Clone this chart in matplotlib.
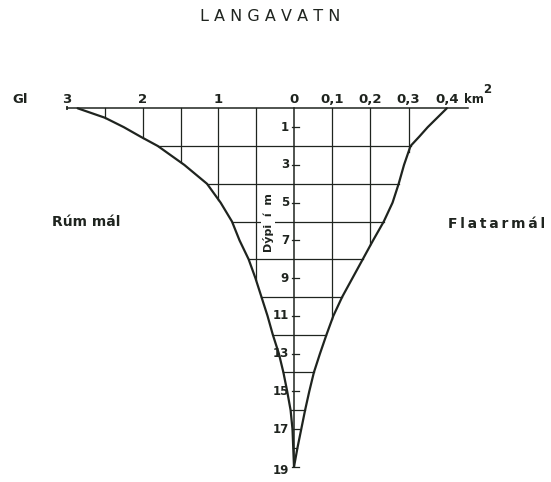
import numpy as np
import matplotlib
matplotlib.use("Agg")
import matplotlib.pyplot as plt

# depth (m)
depth = [0, 0.5, 1, 1.5, 2, 3, 4, 5, 6, 7, 8, 9, 10, 11, 12, 13, 14, 15, 16, 17, 18, 19]
# cumulative volume (Gl) above each depth - left curve
volume = [2.86, 2.5, 2.25, 2.03, 1.8, 1.45, 1.15, 0.97, 0.82, 0.72, 0.6, 0.51, 0.43,
          0.35, 0.28, 0.2, 0.14, 0.09, 0.045, 0.02, 0.01, 0.0]
# area (km2) at each depth - right curve
area = [0.40, 0.375, 0.35, 0.328, 0.305, 0.288, 0.274, 0.258, 0.235, 0.207, 0.18, 0.153,
        0.126, 0.103, 0.085, 0.068, 0.052, 0.04, 0.029, 0.019, 0.009, 0.0]

vol_ticks = [3, 2, 1, 0]
area_ticks = [0.1, 0.2, 0.3, 0.4]
area_labels = ["0,1", "0,2", "0,3", "0,4"]
vol_grid = [0.5, 1, 1.5, 2, 2.5]
area_grid = [0.1, 0.2, 0.3]
depth_grid = [2, 4, 6, 8, 10, 12, 14, 16, 18]
depth_ticks = [1, 3, 5, 7, 9, 11, 13, 15, 17, 19]

d = np.array(depth, dtype=float)
v = np.array(volume)
a = np.array(area)
k = 0.198  # 1 Gl drawn as 0.198 km2 on the shared x axis
xl = -v * k

ink = "#1f241f"
fig = plt.figure(figsize=(5.51, 4.82), dpi=100)
ax = fig.add_axes([0, 0, 1, 1])
pxx = 382.0
pxy = 18.87
ax.set_xlim(-294 / pxx, 257 / pxx)
ax.set_ylim((482 - 108.3) / pxy, -108.3 / pxy)
ax.axis("off")

# curves
ax.plot(xl, d, color=ink, lw=1.6, solid_capstyle="round", solid_joinstyle="round")
ax.plot(a, d, color=ink, lw=1.6, solid_capstyle="round", solid_joinstyle="round")

# top line and zero line
ax.plot([-3 * k, 0.455], [0, 0], color=ink, lw=1.1)
ax.plot([0, 0], [0, 19], color=ink, lw=1.1)
ax.plot([-3 * k], [0], marker="|", color=ink, ms=3, mew=1.2)

# grid inside the outline
for g in depth_grid:
    ax.plot([-np.interp(g, d, v) * k, np.interp(g, d, a)], [g, g], color=ink, lw=0.9)
for g in vol_grid:
    ax.plot([-g * k, -g * k], [0, np.interp(g, v[::-1], d[::-1])], color=ink, lw=0.9)
for g in area_grid:
    ax.plot([g, g], [0, np.interp(g, a[::-1], d[::-1])], color=ink, lw=0.9)

# depth ticks
for t in depth_ticks:
    ax.plot([-0.006, 0.013], [t, t], color=ink, lw=0.9)
    yy = t + (0.2 if t == 19 else 0)
    ax.text(-0.013, yy, str(t), ha="right", va="center", fontsize=8.5,
            fontweight="bold", color=ink)

# top scale labels
fs = 9.5
for t in vol_ticks:
    ax.text(-t * k, -0.45, str(t), ha="center", va="center", fontsize=fs,
            fontweight="bold", color=ink)
for t, lab in zip(area_ticks, area_labels):
    ax.text(t, -0.45, lab, ha="center", va="center", fontsize=fs,
            fontweight="bold", color=ink)
ax.text(-0.717, -0.45, "Gl", ha="center", va="center", fontsize=fs,
        fontweight="bold", color=ink)
ax.text(0.47, -0.45, "km", ha="center", va="center", fontsize=8.5,
        fontweight="bold", color=ink)
ax.text(0.505, -0.97, "2", ha="center", va="center", fontsize=8.5,
        fontweight="bold", color=ink)

ax.text(-0.068, 6.03, "Dýpi  í  m", rotation=90, ha="center", va="center",
        fontsize=8, fontweight="bold", color=ink,
        bbox=dict(facecolor="white", edgecolor="none", pad=1))

ax.text(-0.545, 6.03, "Rúm mál", ha="center", va="center", fontsize=10,
        fontweight="bold", color=ink)
ax.text(0.529, 6.15, "\u2009".join("Flatarmál"), ha="center", va="center",
        fontsize=10, fontweight="bold", color=ink)
ax.text(-0.063, -4.84, "L A N G A V A T N", ha="center", va="center", fontsize=11.5,
        color=ink)

fig.savefig("out.png", dpi=100, facecolor="white")
